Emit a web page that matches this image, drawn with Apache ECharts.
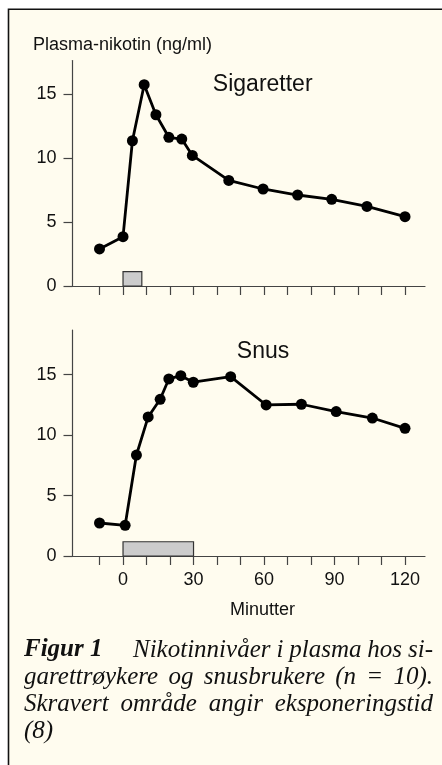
<!DOCTYPE html>
<html><head><meta charset="utf-8">
<script src="https://cdn.jsdelivr.net/npm/echarts@6/dist/echarts.min.js"></script>
<style>html,body{margin:0;padding:0;background:#fff}#c{width:442px;height:765px}</style>
</head><body><div id="c"></div>
<script>
// ---- data ----
const minutesCig   = [-10, 0, 4, 9, 14, 19.5, 25, 29.5, 45, 59.6, 74.3, 88.8, 103.8, 120];
const nicotineCig  = [2.9, 3.85, 11.35, 15.73, 13.38, 11.62, 11.48, 10.2, 8.25, 7.58, 7.11, 6.77, 6.22, 5.42];
const minutesSnus  = [-10, 0.9, 5.7, 10.7, 15.8, 19.5, 24.6, 29.9, 45.8, 60.9, 75.9, 90.7, 106.1, 120];
const nicotineSnus = [2.73, 2.54, 8.35, 11.5, 12.96, 14.64, 14.91, 14.37, 14.83, 12.49, 12.55, 11.94, 11.41, 10.56];
const exposureCig  = [0, 8, 1.12];   // start min, end min, box height
const exposureSnus = [0, 30, 1.18];
const xTickValues  = [-10, 0, 10, 20, 30, 40, 50, 60, 70, 80, 90, 100, 110, 120];
const xLabelValues = [0, 30, 60, 90, 120];
const yTickValues  = [0, 5, 10, 15];
const panelTitles  = ['Sigaretter', 'Snus'];
const yAxisTitle   = 'Plasma-nikotin (ng/ml)';
const xAxisTitle   = 'Minutter';
const captionBold  = 'Figur 1';
const captionLines = [
  'Nikotinnivåer i plasma hos si-',
  'garettrøykere og snusbrukere (n = 10).',
  'Skravert område angir eksponeringstid',
  '(8)'
];

const SANS = "'Liberation Sans', Arial, sans-serif";
const SERIF = "'Liberation Serif', 'Times New Roman', serif";
const AX = '#444';

function pairs(xs, ys) { return xs.map((x, i) => [x, ys[i]]); }

function xAxisCfg(idx, showLabels) {
  return {
    type: 'value', gridIndex: idx, min: -21.5, max: 128.5,
    splitLine: { show: false },
    axisLine: { show: true, onZero: false, lineStyle: { color: AX, width: 1.2 } },
    axisTick: { show: true, length: 9, lineStyle: { color: AX, width: 1.2 }, customValues: xTickValues },
    axisLabel: { show: showLabels, customValues: xLabelValues, margin: 15,
      fontFamily: SANS, fontSize: 18, color: '#111' }
  };
}
function yAxisCfg(idx, max) {
  return {
    type: 'value', gridIndex: idx, min: 0, max: max,
    splitLine: { show: false },
    axisLine: { show: true, onZero: false, lineStyle: { color: AX, width: 1.2 } },
    axisTick: { show: true, length: 9, lineStyle: { color: AX, width: 1.2 }, customValues: yTickValues },
    axisLabel: { show: true, customValues: yTickValues, margin: 16,
      fontFamily: SANS, fontSize: 18, color: '#111' }
  };
}
function lineSeries(idx, xs, ys, exp) {
  return {
    type: 'line', xAxisIndex: idx, yAxisIndex: idx,
    data: pairs(xs, ys),
    symbol: 'circle', symbolSize: 11,
    lineStyle: { color: '#000', width: 2.8 },
    itemStyle: { color: '#000' },
    silent: true,
    markArea: {
      silent: true,
      itemStyle: { color: '#cccccc', borderColor: '#333', borderWidth: 1.2 },
      data: [[{ coord: [exp[0], 0] }, { coord: [exp[1], exp[2]] }]]
    },
    z: 3
  };
}

// caption layout (justified, word by word)
const measureCtx = document.createElement('canvas').getContext('2d');
function textW(str, font) { measureCtx.font = font; return measureCtx.measureText(str).width; }
const capSize = 25;
const capItalic = 'italic ' + capSize + 'px ' + SERIF;
const capLeft = 24, capRight = 433, capFirstLineRest = 133;
const capCenters = [650, 677, 704, 731];
const captionGraphics = [];
function addWord(str, x, y, bold) {
  captionGraphics.push({
    type: 'text', x: x, y: y, z: 10,
    style: { text: str, fontFamily: SERIF, fontSize: capSize, fontStyle: 'italic',
      fontWeight: bold ? 'bold' : 'normal', fill: '#111', align: 'left', verticalAlign: 'middle' }
  });
}
function justify(line, x0, x1, y) {
  const words = line.split(' ');
  const ws = words.map(w => textW(w, capItalic));
  const sum = ws.reduce((a, b) => a + b, 0);
  const gap = words.length > 1 ? (x1 - x0 - sum) / (words.length - 1) : 0;
  let x = x0;
  words.forEach((w, i) => { addWord(w, x, y, false); x += ws[i] + gap; });
}
addWord(captionBold, capLeft, capCenters[0], true);
justify(captionLines[0], capFirstLineRest, capRight, capCenters[0]);
justify(captionLines[1], capLeft, capRight, capCenters[1]);
justify(captionLines[2], capLeft, capRight, capCenters[2]);
addWord(captionLines[3], capLeft, capCenters[3], false);

const chart = echarts.init(document.getElementById('c'), null, { renderer: 'canvas' });
chart.setOption({
  animation: false,
  backgroundColor: '#ffffff',
  grid: [
    { left: 72.5, top: 60.5, width: 352.5, height: 225.5, outerBoundsMode: 'none', containLabel: false },
    { left: 72.5, top: 330, width: 352.5, height: 226, outerBoundsMode: 'none', containLabel: false }
  ],
  xAxis: [xAxisCfg(0, false), xAxisCfg(1, true)],
  yAxis: [yAxisCfg(0, 17.62), yAxisCfg(1, 18.69)],
  series: [
    lineSeries(0, minutesCig, nicotineCig, exposureCig),
    lineSeries(1, minutesSnus, nicotineSnus, exposureSnus)
  ],
  graphic: [
    { type: 'rect', z: -100, silent: true,
      shape: { x: 8.5, y: 9.2, width: 600, height: 900 },
      style: { fill: '#fffcef', stroke: '#111', lineWidth: 1.6 } },
    { type: 'text', x: 33, y: 45.5, z: 10,
      style: { text: yAxisTitle, fontFamily: SANS, fontSize: 18, fill: '#111', align: 'left', verticalAlign: 'middle' } },
    { type: 'text', x: 262.7, y: 84.5, z: 10,
      style: { text: panelTitles[0], fontFamily: SANS, fontSize: 23, fill: '#111', align: 'center', verticalAlign: 'middle' } },
    { type: 'text', x: 263, y: 351.5, z: 10,
      style: { text: panelTitles[1], fontFamily: SANS, fontSize: 23, fill: '#111', align: 'center', verticalAlign: 'middle' } },
    { type: 'text', x: 262.5, y: 610.5, z: 10,
      style: { text: xAxisTitle, fontFamily: SANS, fontSize: 18, fill: '#111', align: 'center', verticalAlign: 'middle' } }
  ].concat(captionGraphics)
});
</script>
</body></html>
